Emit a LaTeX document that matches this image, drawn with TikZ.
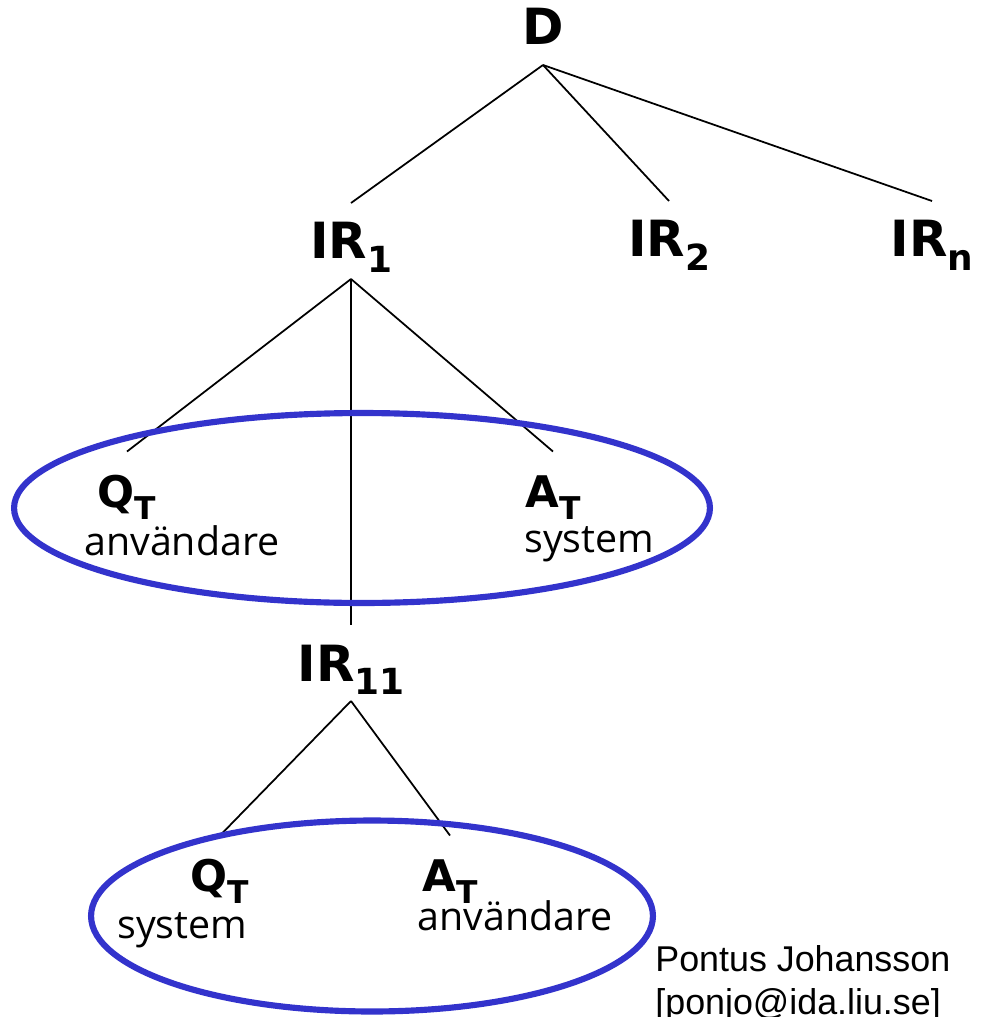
\documentclass[tikz,border=0pt]{standalone}
\usepackage{fontspec}
\usepackage{graphicx}
\usepackage{tikz}
\usetikzlibrary{positioning}
\newfontfamily\labfont{DejaVu Sans}
\newfontfamily\handfont{Open Sans}
\newfontfamily\namefont{Liberation Sans}
\definecolor{ringblue}{RGB}{51,51,204}
\newcommand{\subsc}[1]{\raisebox{-.28em}{\scalebox{.72}{#1}}}
\tikzset{
    big/.style={font=\labfont\bfseries\fontsize{28.4}{30}\selectfont, text height=0.72cm, text depth=0pt, inner sep=0pt, outer xsep=0pt, outer ysep=0.4cm},
    small/.style={font=\labfont\bfseries\fontsize{24.8}{26}\selectfont, text height=0.62cm, text depth=0pt, inner sep=0pt, outer xsep=0pt, outer ysep=0.5cm},
    hand/.style={font=\handfont\fontsize{22.4}{24}\selectfont, anchor=base west, inner sep=0pt},
    who/.style={font=\namefont\fontsize{20.4}{22}\selectfont, anchor=base west, inner sep=0pt},
    edge/.style={draw, line width=1pt},
    ring/.style={draw=ringblue, line width=3.5pt}
}

\begin{document}
\begin{tikzpicture}[x=0.02cm, y=-0.02cm]
    \useasboundingbox (0,0) rectangle (980,1017);
    % tree
    \node[big] (D) at (543,27) {D};
    \node[big] (IR1) at (351,241) {IR\subsc{1}};
    \node[big] (IR2) at (669,239) {IR\subsc{2}};
    \node[big] (IRn) at (932,239) {IR\subsc{n}};
    \node[small] (QT) at (127,492) {Q\subsc{T}};
    \node[small] (AT) at (553,492) {A\subsc{T}};
    \node[big] (IR11) at (351,663) {IR\subsc{11}};
    \node[small] (QT2) at (220,876) {Q\subsc{T}};
    \node[small] (AT2) at (450,876) {A\subsc{T}};
    \foreach \c in {IR1,IR2,IRn}
        \draw[edge] (D.south) -- (\c.north);
    \foreach \c in {QT,IR11,AT}
        \draw[edge] (IR1.south) -- (\c.north);
    \foreach \c in {QT2,AT2}
        \draw[edge] (IR11.south) -- (\c.north);
    % who asks, who answers
    \node[hand] (QTw) at (84,555) {användare};
    \node[hand] (ATw) at (524,552) {system};
    \node[hand] (QT2w) at (117,938) {system};
    \node[hand] (AT2w) at (417,930) {användare};
    % rings
    \draw[ring] (362,508) ellipse [x radius=6.96cm, y radius=1.9cm];
    \draw[ring] (372,916) ellipse [x radius=5.62cm, y radius=1.91cm];
    % author
    \node[who] (name) at (655,971) {Pontus Johansson};
    \node[who] (mail) [below=0.86cm of name.base west, anchor=base west] {[ponjo@ida.liu.se]};
\end{tikzpicture}
\end{document}
